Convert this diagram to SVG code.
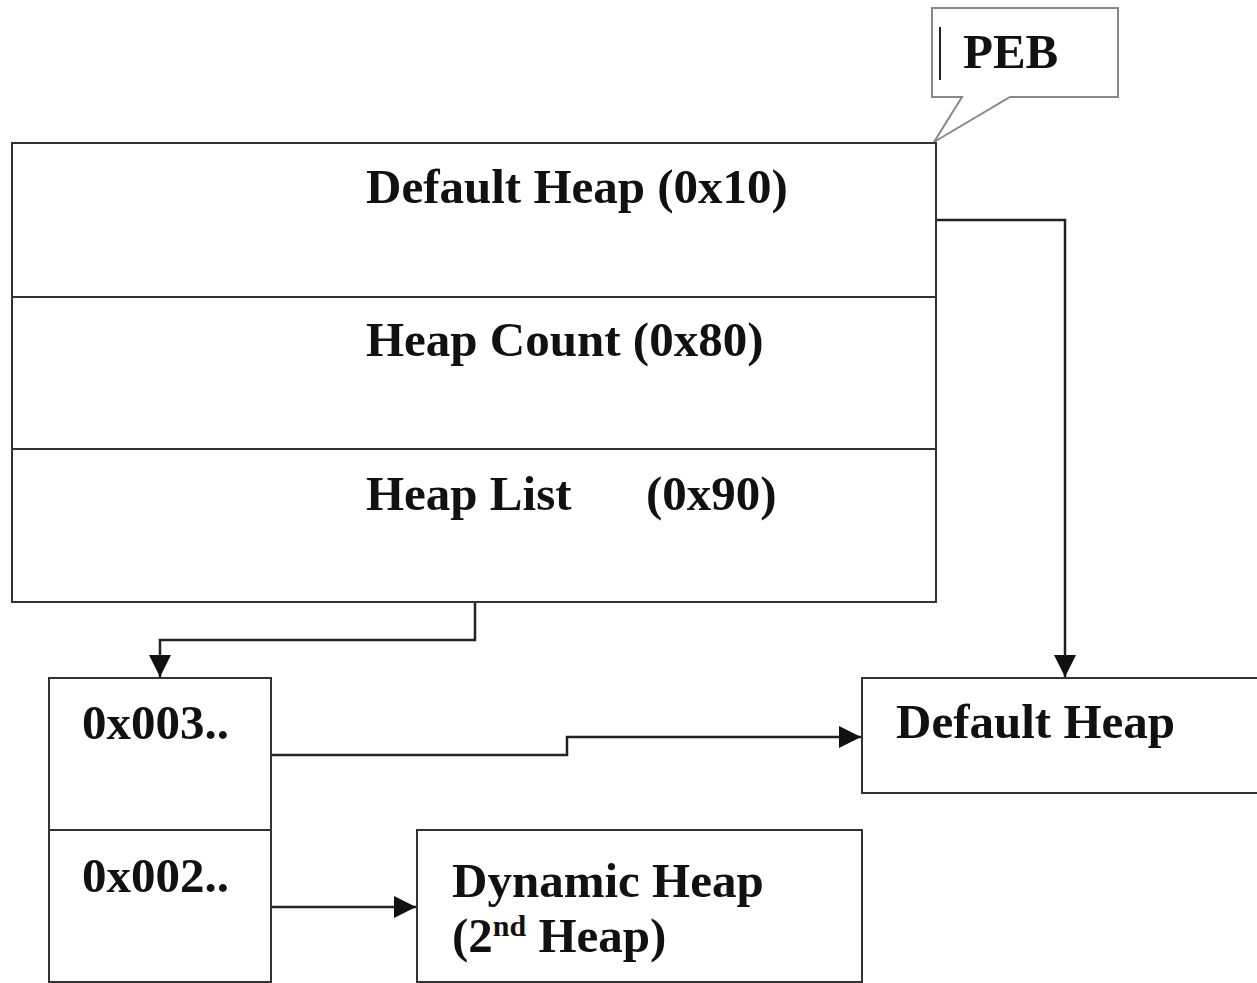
<svg xmlns="http://www.w3.org/2000/svg" width="1257" height="983" viewBox="0 0 1257 983">
<style>
.box{fill:#fff;stroke:#333;stroke-width:2}
.div{stroke:#333;stroke-width:2}
.t{font-family:"Liberation Serif","Times New Roman",serif;font-weight:bold;font-size:49px;fill:#111}
.c{fill:none;stroke:#222;stroke-width:2.5}
.call{fill:#fff;stroke:#888;stroke-width:2}
</style>
<defs>
<marker id="arrow" viewBox="0 0 20 20" refX="20" refY="10" markerWidth="22" markerHeight="22" markerUnits="userSpaceOnUse" orient="auto">
<path d="M0,0 L20,10 L0,20 Z" fill="#111"/>
</marker>
</defs>
<g id="connectors">
<polyline class="c" points="936,220 1065,220 1065,677" marker-end="url(#arrow)"/>
<polyline class="c" points="475,602 475,640 160,640 160,677" marker-end="url(#arrow)"/>
<polyline class="c" points="271,755 567,755 567,737 861,737" marker-end="url(#arrow)"/>
<polyline class="c" points="271,907 416,907" marker-end="url(#arrow)"/>
</g>
<g id="peb-callout">
<path class="call" d="M932,8 H1118 V97 H1010 L934,142 L962,97 H932 Z"/>
<line x1="940" y1="27" x2="940" y2="80" stroke="#222" stroke-width="2"/>
<text class="t" x="963" y="68" font-size="46">PEB</text>
</g>
<g id="peb">
<rect class="box" x="12" y="143" width="924" height="459"/>
<line class="div" x1="12" y1="297" x2="936" y2="297"/>
<line class="div" x1="12" y1="449" x2="936" y2="449"/>
<text class="t" x="366" y="203">Default Heap (0x10)</text>
<text class="t" x="366" y="356">Heap Count (0x80)</text>
<text class="t" x="366" y="510">Heap List</text>
<text class="t" x="646" y="510">(0x90)</text>
</g>
<g id="heap-list">
<rect class="box" x="49" y="678" width="222" height="152"/>
<rect class="box" x="49" y="830" width="222" height="152"/>
<text class="t" x="82" y="739" font-size="48">0x003..</text>
<text class="t" x="82" y="892" font-size="48">0x002..</text>
</g>
<g id="default-heap">
<rect class="box" x="862" y="678" width="400" height="115"/>
<text class="t" x="896" y="738">Default Heap</text>
</g>
<g id="dynamic-heap">
<rect class="box" x="417" y="830" width="445" height="152"/>
<text class="t" x="452" y="897">Dynamic Heap</text>
<text class="t" x="452" y="952">(2<tspan font-size="30" dy="-16">nd</tspan><tspan dy="16"> Heap)</tspan></text>
</g>
</svg>
